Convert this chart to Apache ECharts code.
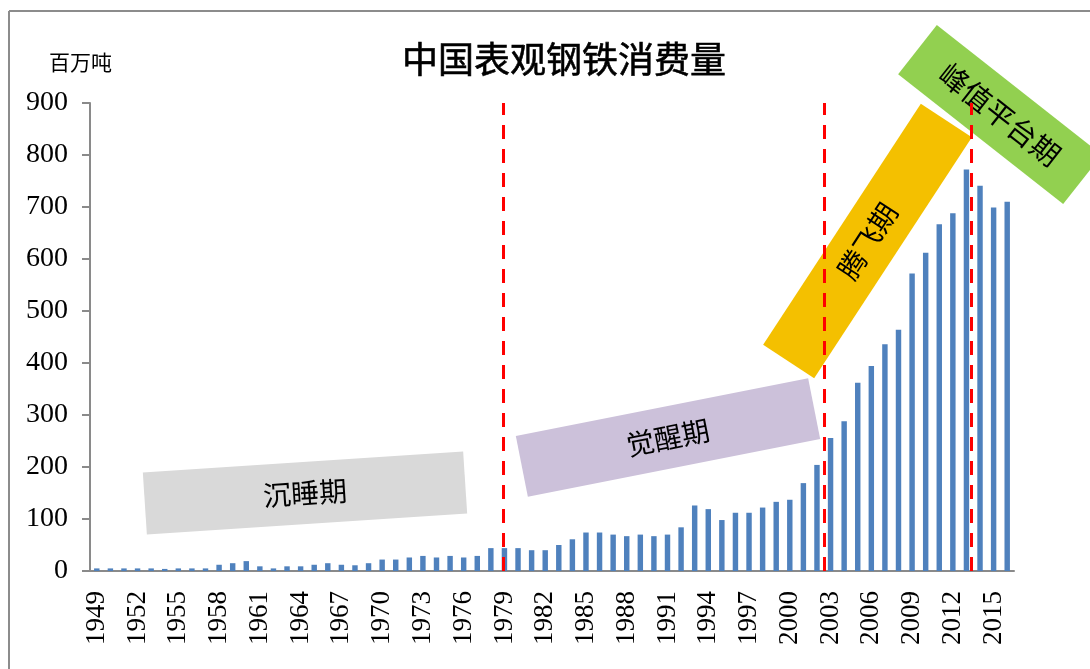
<!DOCTYPE html>
<html>
<head>
<meta charset="utf-8">
<title>中国表观钢铁消费量</title>
<script src="https://cdn.jsdelivr.net/npm/echarts@6/dist/echarts.min.js"></script>
<style>
  html, body { margin: 0; padding: 0; background: #ffffff; }
  #chart { width: 1090px; height: 669px; }
</style>
</head>
<body>
<div id="chart"></div>
<script>
// Years on the category axis
const years = [
  '1949','1950','1951','1952','1953','1954','1955','1956','1957','1958',
  '1959','1960','1961','1962','1963','1964','1965','1966','1967','1968',
  '1969','1970','1971','1972','1973','1974','1975','1976','1977','1978',
  '1979','1980','1981','1982','1983','1984','1985','1986','1987','1988',
  '1989','1990','1991','1992','1993','1994','1995','1996','1997','1998',
  '1999','2000','2001','2002','2003','2004','2005','2006','2007','2008',
  '2009','2010','2011','2012','2013','2014','2015','2016'
];

// Apparent steel consumption, million tonnes
const consumption = [
  5, 5, 5, 5, 5, 4, 5, 5, 5, 12,
  15, 19, 9, 5, 9, 9, 12, 15, 12, 11,
  15, 22, 22, 26, 29, 26, 29, 26, 29, 44,
  44, 44, 40, 40, 50, 61, 74, 74, 70, 67,
  70, 67, 70, 84, 126, 119, 98, 112, 112, 122,
  133, 137, 169, 204, 256, 288, 362, 394, 436, 464,
  572, 612, 667, 688, 772, 741, 699, 710
];

// Y axis range and step
const yMin = 0;
const yMax = 900;
const yStep = 100;

// Phase boundaries, in category units counted from the left edge of the axis
const phaseBreaks = [30.42, 54.0, 64.86];

// Phase labels
const phaseNames = ['沉睡期', '觉醒期', '腾飞期', '峰值平台期'];

const chart = echarts.init(document.getElementById('chart'), null, { renderer: 'canvas' });

const axisGray = '#8a8a8a';
const serif = "'Liberation Serif', 'DejaVu Serif', serif";
const cjk = "'Noto Sans CJK SC', sans-serif";

// A rotated coloured band with a label centred on it
function band(cx, cy, w, h, angleDeg, color, text, fontSize) {
  return {
    type: 'group',
    x: cx,
    y: cy,
    rotation: angleDeg * Math.PI / 180,
    z: 100,
    children: [
      {
        type: 'rect',
        shape: { x: -w / 2, y: -h / 2, width: w, height: h },
        style: { fill: color }
      },
      {
        type: 'text',
        x: 0,
        y: 0,
        style: {
          text: text,
          fill: '#000000',
          font: 'normal ' + fontSize + 'px ' + cjk,
          align: 'center',
          verticalAlign: 'middle'
        }
      }
    ]
  };
}

const option = {
  backgroundColor: '#ffffff',
  animation: false,
  title: [
    {
      text: '中国表观钢铁消费量',
      left: 559,
      top: 36,
      textAlign: 'center',
      textStyle: {
        fontFamily: cjk,
        fontSize: 36,
        fontWeight: 'normal',
        color: '#000000',
        textBorderColor: '#000000',
        textBorderWidth: 0.6
      }
    },
    {
      text: '百万吨',
      left: 44,
      top: 47,
      textStyle: { fontFamily: cjk, fontSize: 21, fontWeight: 'normal', color: '#000000' }
    }
  ],
  grid: { left: 90, right: 76, top: 103, bottom: 98, containLabel: false },
  xAxis: [
    {
      type: 'category',
      data: years,
      boundaryGap: true,
      axisLine: { show: true, lineStyle: { color: axisGray, width: 2 } },
      axisTick: { show: false },
      axisLabel: {
        interval: 2,
        rotate: 90,
        margin: 20,
        fontFamily: serif,
        fontSize: 27,
        color: '#000000'
      },
      splitLine: { show: false }
    },
    {
      type: 'value',
      min: 0,
      max: years.length,
      show: false
    }
  ],
  yAxis: {
    type: 'value',
    min: yMin,
    max: yMax,
    interval: yStep,
    axisLine: { show: true, lineStyle: { color: axisGray, width: 2 } },
    axisTick: { show: true, length: 8, lineStyle: { color: axisGray, width: 2 } },
    axisLabel: {
      margin: 22,
      fontFamily: serif,
      fontSize: 28,
      color: '#000000'
    },
    splitLine: { show: false }
  },
  series: [
    {
      name: '表观消费量',
      type: 'bar',
      xAxisIndex: 0,
      yAxisIndex: 0,
      data: consumption,
      barWidth: '40%',
      itemStyle: { color: '#4f81bd' },
      z: 2
    },
    {
      name: '阶段分界',
      type: 'line',
      xAxisIndex: 1,
      yAxisIndex: 0,
      data: [],
      z: 5,
      markLine: {
        silent: true,
        symbol: 'none',
        label: { show: false },
        lineStyle: { color: '#ff0000', width: 3, type: [14, 10] },
        data: phaseBreaks.map(v => ({ xAxis: v }))
      }
    }
  ],
  graphic: [
    // outer frame
    {
      type: 'line',
      shape: { x1: 9, y1: 11, x2: 1090, y2: 11 },
      style: { stroke: '#8c8c8c', lineWidth: 2 },
      z: 1
    },
    {
      type: 'line',
      shape: { x1: 9, y1: 11, x2: 9, y2: 669 },
      style: { stroke: '#8c8c8c', lineWidth: 2 },
      z: 1
    },
    band(305, 493, 321, 62, 3.75, '#d9d9d9', phaseNames[0], 28),
    band(668, 437.5, 298, 62, 11.2, '#ccc1da', phaseNames[1], 28),
    band(867.5, 241, 288, 61, 56.8, '#f4c000', phaseNames[2], 28),
    band(1000, 114.5, 210, 62.6, -38.2, '#92d050', phaseNames[3], 29)
  ]
};

chart.setOption(option);
</script>
</body>
</html>
